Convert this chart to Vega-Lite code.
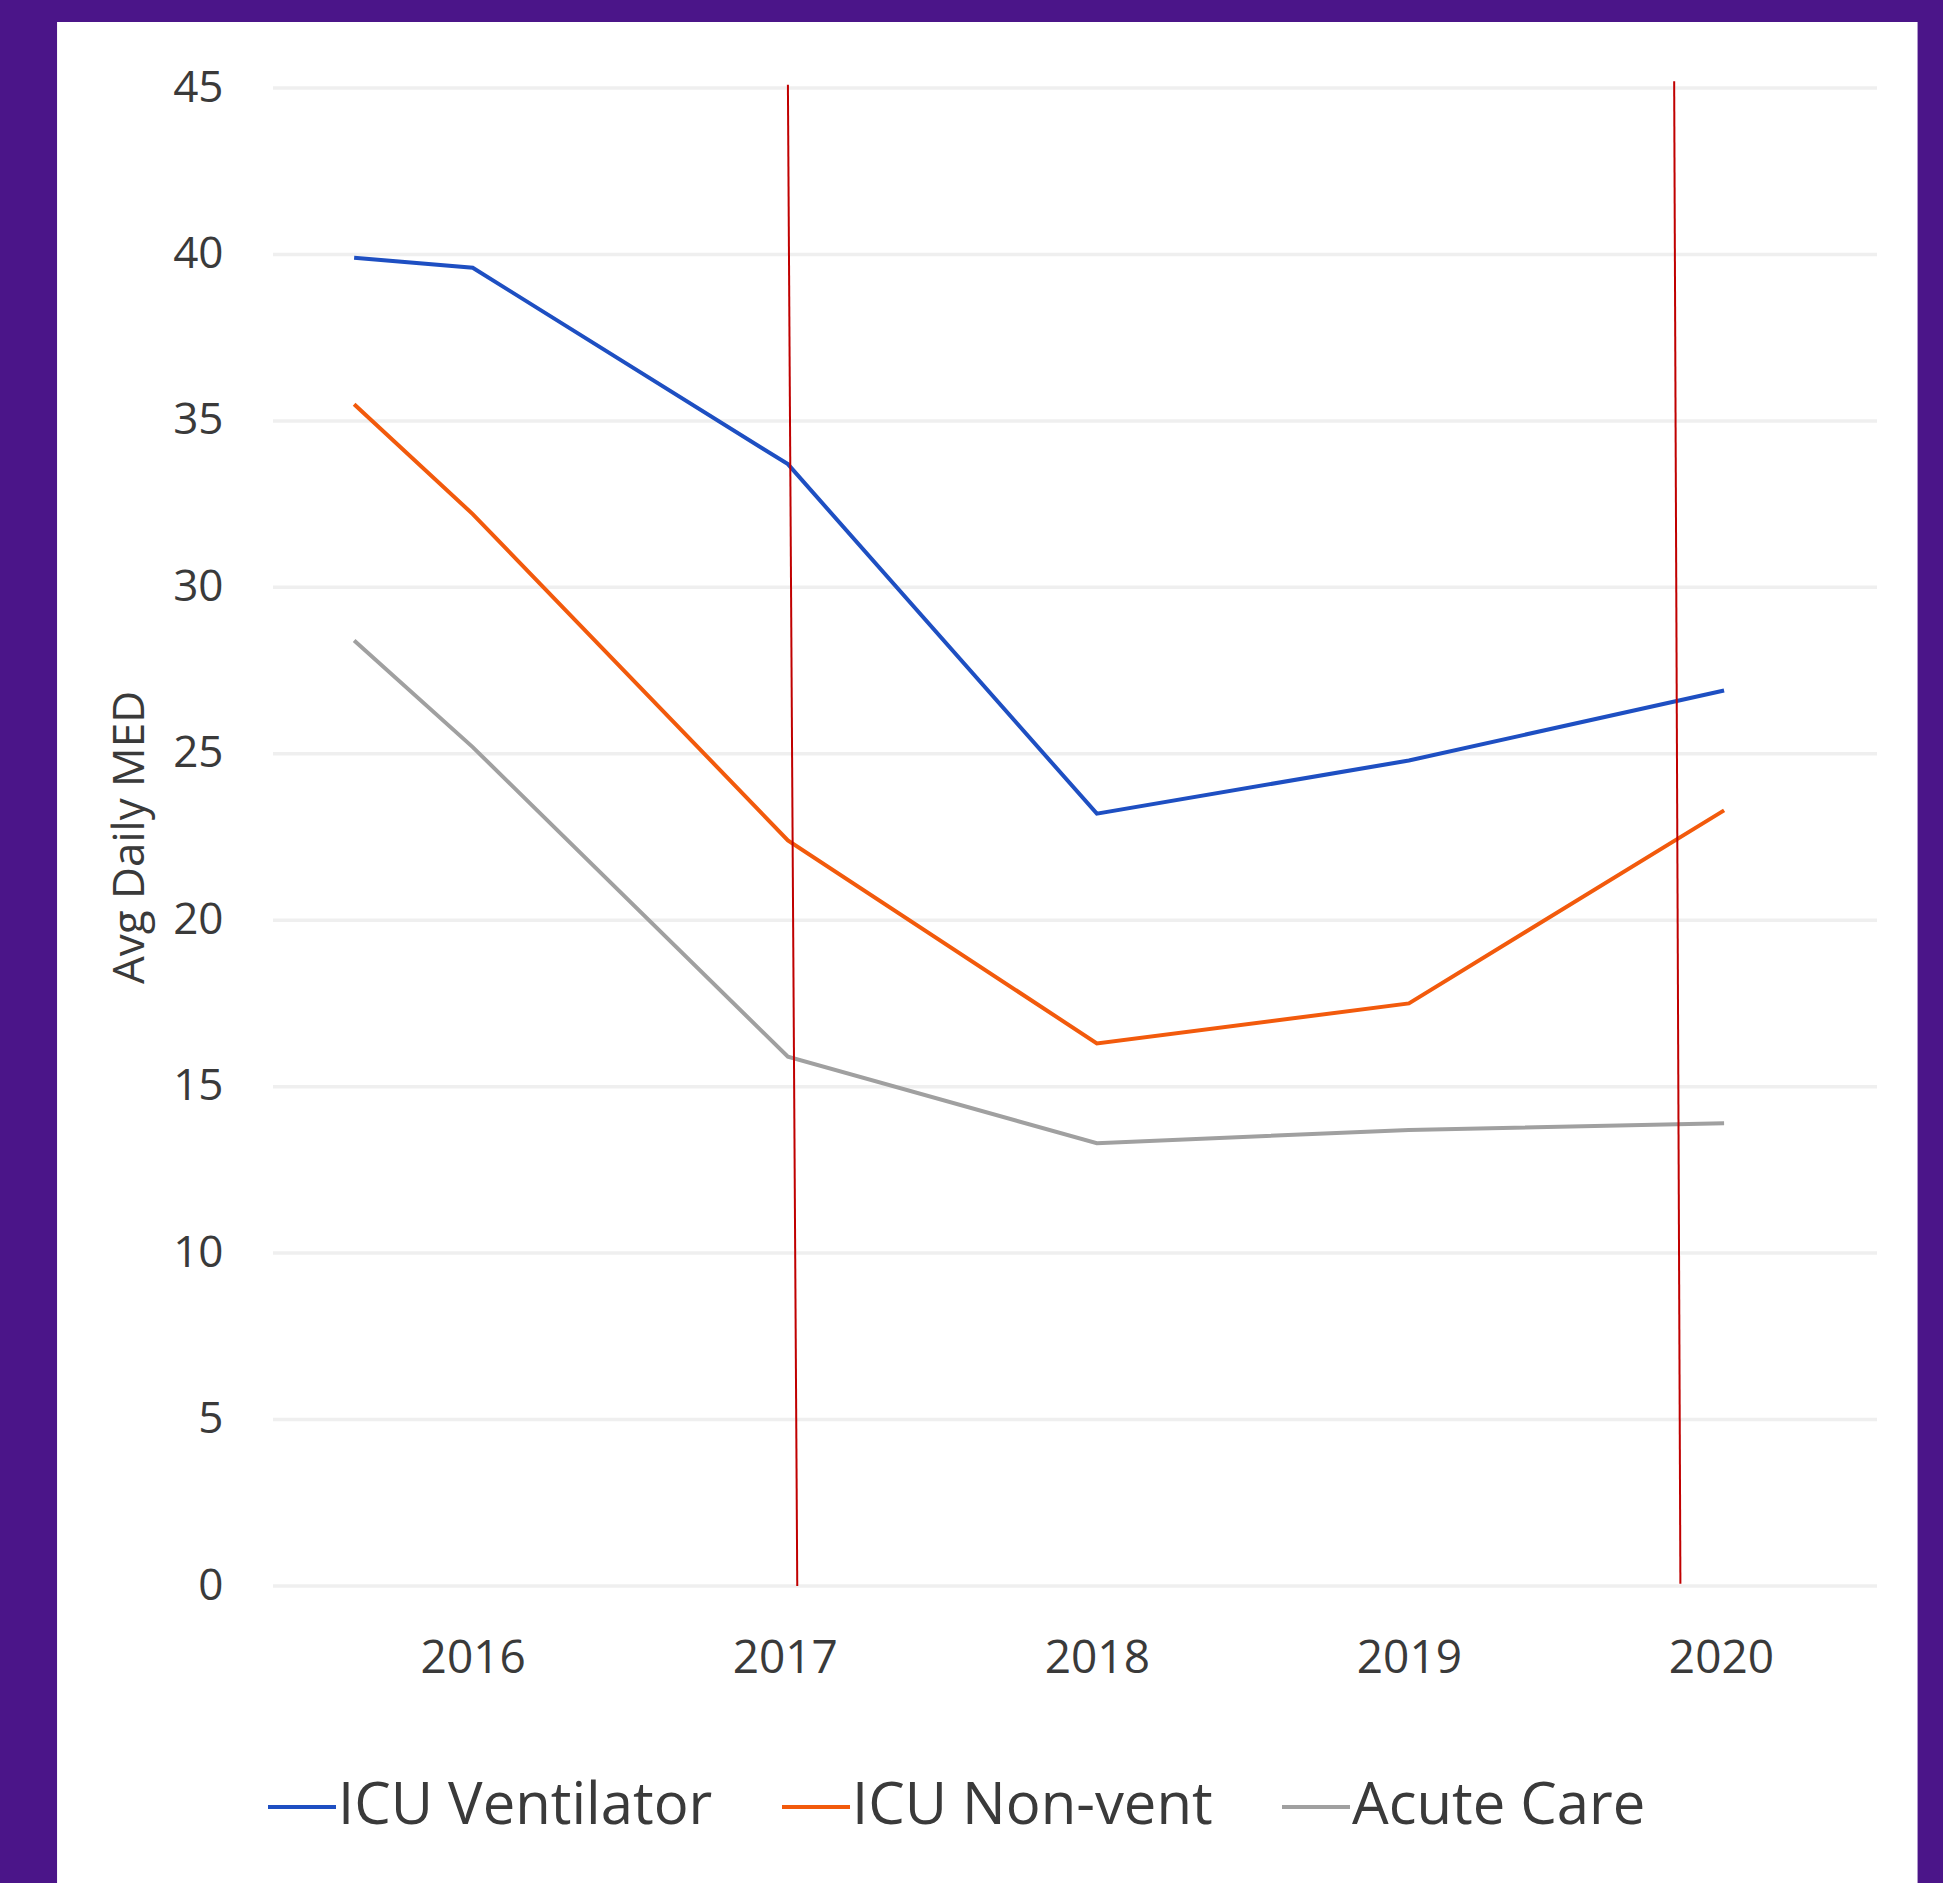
{
  "$schema": "https://vega.github.io/schema/vega-lite/v6.json",
  "width": 1604,
  "height": 1498,
  "autosize": {"type": "none"},
  "padding": {"left": 273, "top": 88, "right": 66, "bottom": 297},
  "background": "#4B1589",
  "config": {
    "view": {"stroke": null},
    "font": "Open Sans"
  },
  "datasets": {
    "panel": [{"panel": "white"}],
    "series": [
      {"year": 2015.62, "group": "ICU Ventilator", "med": 39.9},
      {"year": 2016.0, "group": "ICU Ventilator", "med": 39.6},
      {"year": 2017.01, "group": "ICU Ventilator", "med": 33.7},
      {"year": 2018.0, "group": "ICU Ventilator", "med": 23.2},
      {"year": 2019.0, "group": "ICU Ventilator", "med": 24.8},
      {"year": 2020.01, "group": "ICU Ventilator", "med": 26.9},
      {"year": 2015.62, "group": "ICU Non-vent", "med": 35.5},
      {"year": 2016.0, "group": "ICU Non-vent", "med": 32.2},
      {"year": 2017.01, "group": "ICU Non-vent", "med": 22.4},
      {"year": 2018.0, "group": "ICU Non-vent", "med": 16.3},
      {"year": 2019.0, "group": "ICU Non-vent", "med": 17.5},
      {"year": 2020.01, "group": "ICU Non-vent", "med": 23.3},
      {"year": 2015.62, "group": "Acute Care", "med": 28.4},
      {"year": 2016.0, "group": "Acute Care", "med": 25.2},
      {"year": 2017.01, "group": "Acute Care", "med": 15.9},
      {"year": 2018.0, "group": "Acute Care", "med": 13.3},
      {"year": 2019.0, "group": "Acute Care", "med": 13.7},
      {"year": 2020.01, "group": "Acute Care", "med": 13.9}
    ],
    "grid": [
      {"g": 0}, {"g": 5}, {"g": 10}, {"g": 15}, {"g": 20},
      {"g": 25}, {"g": 30}, {"g": 35}, {"g": 40}, {"g": 45}
    ],
    "markers": [
      {"xa": 2017.01, "xb": 2017.04, "ya": 45.1, "yb": 0},
      {"xa": 2019.85, "xb": 2019.87, "ya": 45.2, "yb": 0.07}
    ]
  },
  "layer": [
    {
      "data": {"name": "panel"},
      "mark": {"type": "rect", "fill": "white"},
      "encoding": {
        "x": {"datum": 2014.668, "type": "quantitative", "scale": {"domain": [2015.36, 2020.5], "nice": false, "zero": false}},
        "x2": {"datum": 2020.63},
        "y": {"datum": -8.92, "type": "quantitative", "scale": {"domain": [0, 45], "nice": false}},
        "y2": {"datum": 46.98}
      }
    },
    {
      "data": {"name": "grid"},
      "mark": {"type": "rule", "color": "#EFEFEF", "strokeWidth": 3.5},
      "encoding": {
        "y": {"field": "g", "type": "quantitative", "scale": {"domain": [0, 45], "nice": false}}
      }
    },
    {
      "data": {"name": "series"},
      "mark": {"type": "line", "strokeWidth": 4},
      "encoding": {
        "x": {
          "field": "year", "type": "quantitative",
          "scale": {"domain": [2015.36, 2020.5], "nice": false, "zero": false},
          "axis": {
            "zindex": 2,
            "values": [2016, 2017, 2018, 2019, 2020], "format": "d", "title": null,
            "grid": false, "ticks": false, "domain": false,
            "labelFontSize": 46, "labelColor": "#3A3A3A", "labelPadding": 50, "labelFont": "Open Sans"
          }
        },
        "y": {
          "field": "med", "type": "quantitative",
          "scale": {"domain": [0, 45], "nice": false},
          "axis": {
            "zindex": 2,
            "values": [0, 5, 10, 15, 20, 25, 30, 35, 40, 45],
            "grid": false, "ticks": false, "domain": false,
            "labelFontSize": 44, "labelColor": "#3A3A3A", "labelPadding": 50, "labelFont": "Open Sans",
            "title": "Avg Daily MED", "titleFontSize": 44, "titleFontWeight": "normal", "titleColor": "#3A3A3A",
            "titleFont": "Open Sans", "titleX": -143, "titleY": 749, "titleAngle": -90, "titleAlign": "center", "titleBaseline": "middle"
          }
        },
        "color": {
          "field": "group", "type": "nominal",
          "scale": {"domain": ["ICU Ventilator", "ICU Non-vent", "Acute Care"], "range": ["#1E4FC2", "#F25A0C", "#A0A0A0"]},
          "legend": {
            "orient": "none", "legendX": -7, "legendY": 1683, "direction": "horizontal", "columns": 3,
            "title": null, "symbolType": "stroke", "symbolSize": 4624, "symbolStrokeWidth": 4,
            "labelFontSize": 58, "labelColor": "#3A3A3A", "labelOffset": 0, "columnPadding": 61,
            "padding": 0, "labelFont": "Open Sans", "labelLimit": 0
          }
        }
      }
    },
    {
      "data": {"name": "markers"},
      "mark": {"type": "rule", "color": "#C00000", "strokeWidth": 2},
      "encoding": {
        "x": {"field": "xa", "type": "quantitative"},
        "x2": {"field": "xb"},
        "y": {"field": "ya", "type": "quantitative"},
        "y2": {"field": "yb"}
      }
    }
  ]
}
